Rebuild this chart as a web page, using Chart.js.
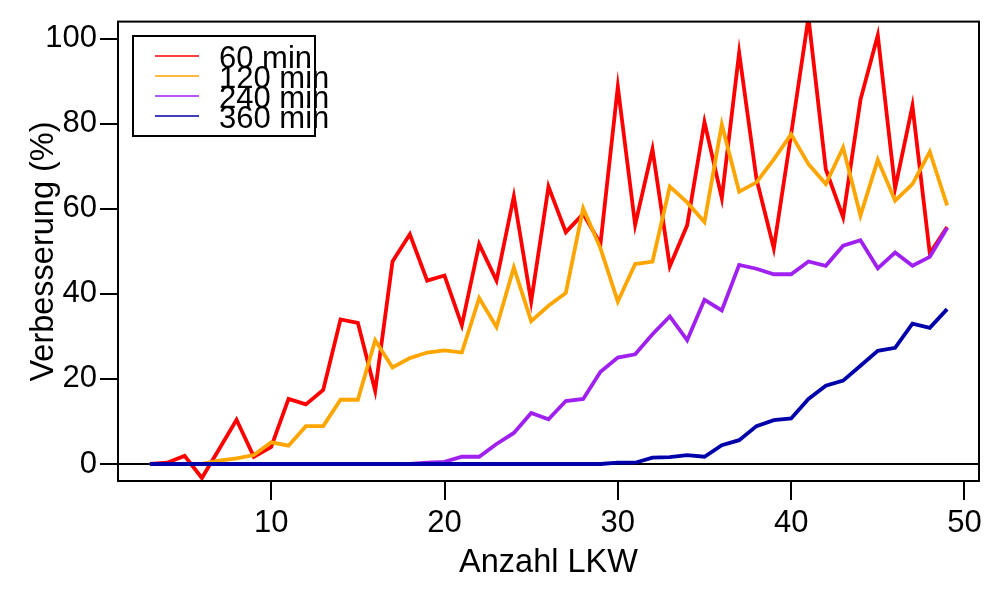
<!DOCTYPE html>
<html>
<head>
<meta charset="utf-8">
<script src="https://cdn.jsdelivr.net/npm/chart.js@4"></script>
<style>
  body { margin: 0; background: #fff; }
  #wrap { width: 1000px; height: 600px; }
</style>
</head>
<body>
<div id="wrap"><canvas id="chart" width="1000" height="600"></canvas></div>
<script>
// Anzahl LKW
const trucks = [3, 4, 5, 6, 7, 8, 9, 10, 11, 12, 13, 14, 15, 16, 17, 18, 19, 20, 21, 22, 23, 24, 25, 26,
  27, 28, 29, 30, 31, 32, 33, 34, 35, 36, 37, 38, 39, 40, 41, 42, 43, 44, 45, 46, 47, 48, 49];

// Verbesserung (%) per time window
const min60 = [0, 0.3, 1.9, -3.3, 3.5, 10.4, 1.7, 4.0, 15.3, 14.0, 17.4, 34.0, 33.2, 17.2, 47.6, 54.0,
  43.1, 44.3, 32.6, 51.7, 43.1, 62.9, 38.2, 65.2, 54.5, 58.8, 51.8, 88.7, 56.2, 74.0, 46.5, 56.1,
  80.4, 62.5, 96.7, 67.0, 50.7, 77.5, 105, 69.3, 58.0, 85.6, 100.8, 64.8, 84.2, 49.5, 55.7];
const min120 = [0, 0, 0, 0, 0.8, 1.3, 2.1, 5.1, 4.3, 8.9, 8.9, 15.1, 15.1, 29.1, 22.7, 24.9,
  26.2, 26.7, 26.2, 39.0, 32.2, 46.2, 33.6, 37.2, 40.2, 60.1, 50.7, 38.2, 47.0, 47.6, 65.2, 61.5,
  56.9, 79.8, 64.0, 66.2, 71.6, 77.5, 70.5, 65.8, 74.4, 58.4, 71.5, 61.9, 65.8, 73.4, 60.8];
const min240 = [0, 0, 0, 0, 0, 0, 0, 0, 0, 0, 0, 0, 0, 0, 0, 0,
  0.3, 0.5, 1.7, 1.7, 4.7, 7.3, 12.0, 10.5, 14.8, 15.3, 21.7, 25.0, 25.8, 30.5, 34.7, 29.1,
  38.6, 36.1, 46.8, 45.9, 44.6, 44.6, 47.6, 46.6, 51.3, 52.6, 46.0, 49.7, 46.6, 48.7, 55.5];
const min360 = [0, 0, 0, 0, 0, 0, 0, 0, 0, 0, 0, 0, 0, 0, 0, 0,
  0, 0, 0, 0, 0, 0, 0, 0, 0, 0, 0, 0.3, 0.3, 1.5, 1.6, 2.1,
  1.7, 4.4, 5.6, 8.9, 10.3, 10.7, 15.3, 18.4, 19.6, 23.1, 26.6, 27.3, 33.0, 32.0, 36.4];

const xTicks = [10, 20, 30, 40, 50];
const yTicks = [0, 20, 40, 60, 80, 100];

const FONT = 'Liberation Sans, Arial, sans-serif';

function series(label, values, color, order) {
  return {
    label: label,
    data: trucks.map((t, i) => ({ x: t, y: values[i] })),
    borderColor: color,
    backgroundColor: color,
    borderWidth: 3.8,
    pointRadius: 0,
    tension: 0,
    order: order,
  };
}

// box, zero line, titles and the R-style legend
const decor = {
  id: 'decor',
  beforeDatasetsDraw(chart) {
    const { ctx, chartArea: a, scales } = chart;
    const y0 = scales.y.getPixelForValue(0);
    ctx.save();
    ctx.strokeStyle = '#000';
    ctx.lineWidth = 2;
    ctx.beginPath();
    ctx.moveTo(a.left, y0);
    ctx.lineTo(a.right, y0);
    ctx.stroke();
    ctx.restore();
  },
  afterDraw(chart) {
    const { ctx, chartArea: a } = chart;
    ctx.save();
    ctx.strokeStyle = '#000';
    ctx.lineWidth = 2;
    ctx.strokeRect(a.left, a.top, a.right - a.left, a.bottom - a.top);

    ctx.fillStyle = '#000';
    ctx.font = '32.5px ' + FONT;
    ctx.textAlign = 'center';
    ctx.textBaseline = 'alphabetic';
    ctx.fillText('Anzahl LKW', (a.left + a.right) / 2, 572);
    ctx.save();
    ctx.translate(53, 251.5);
    ctx.rotate(-Math.PI / 2);
    ctx.fillText('Verbesserung (%)', 0, 0);
    ctx.restore();

    // legend
    ctx.lineWidth = 2;
    ctx.strokeRect(133, 36, 182, 100);
    ctx.font = '31px ' + FONT;
    ctx.textAlign = 'left';
    chart.data.datasets.forEach((d, i) => {
      const y = 56 + i * 20;
      ctx.strokeStyle = d.borderColor;
      ctx.lineWidth = 1.5;
      ctx.beginPath();
      ctx.moveTo(155, y);
      ctx.lineTo(199, y);
      ctx.stroke();
      ctx.fillStyle = '#000';
      ctx.fillText(d.label, 219, y + 12.3);
    });
    ctx.restore();
  }
};

new Chart(document.getElementById('chart'), {
  type: 'line',
  data: {
    datasets: [
      series('60 min', min60, '#FF0000', 4),
      series('120 min', min120, '#FFA500', 3),
      series('240 min', min240, '#A020F0', 2),
      series('360 min', min360, '#0000AA', 1),
    ]
  },
  options: {
    responsive: false,
    devicePixelRatio: 1,
    animation: false,
    layout: { padding: { left: 0, top: 19, right: 21, bottom: 0 } },
    plugins: { legend: { display: false }, tooltip: { enabled: false } },
    scales: {
      x: {
        type: 'linear',
        min: 1.16,
        max: 50.84,
        afterFit: s => { s.height = 119; },
        afterBuildTicks: s => { s.ticks = xTicks.map(v => ({ value: v })); },
        grid: { drawOnChartArea: false, drawTicks: true, tickLength: 19, color: '#000', lineWidth: 2 },
        border: { display: false },
        ticks: { color: '#000', font: { family: FONT, size: 31 }, padding: 5, maxRotation: 0 }
      },
      y: {
        type: 'linear',
        min: -4,
        max: 104,
        afterFit: s => { s.width = 118; },
        afterBuildTicks: s => { s.ticks = yTicks.map(v => ({ value: v })); },
        grid: { drawOnChartArea: false, drawTicks: true, tickLength: 18, color: '#000', lineWidth: 2 },
        border: { display: false },
        ticks: { color: '#000', font: { family: FONT, size: 31 }, padding: 3 }
      }
    }
  },
  plugins: [decor]
});
</script>
</body>
</html>
